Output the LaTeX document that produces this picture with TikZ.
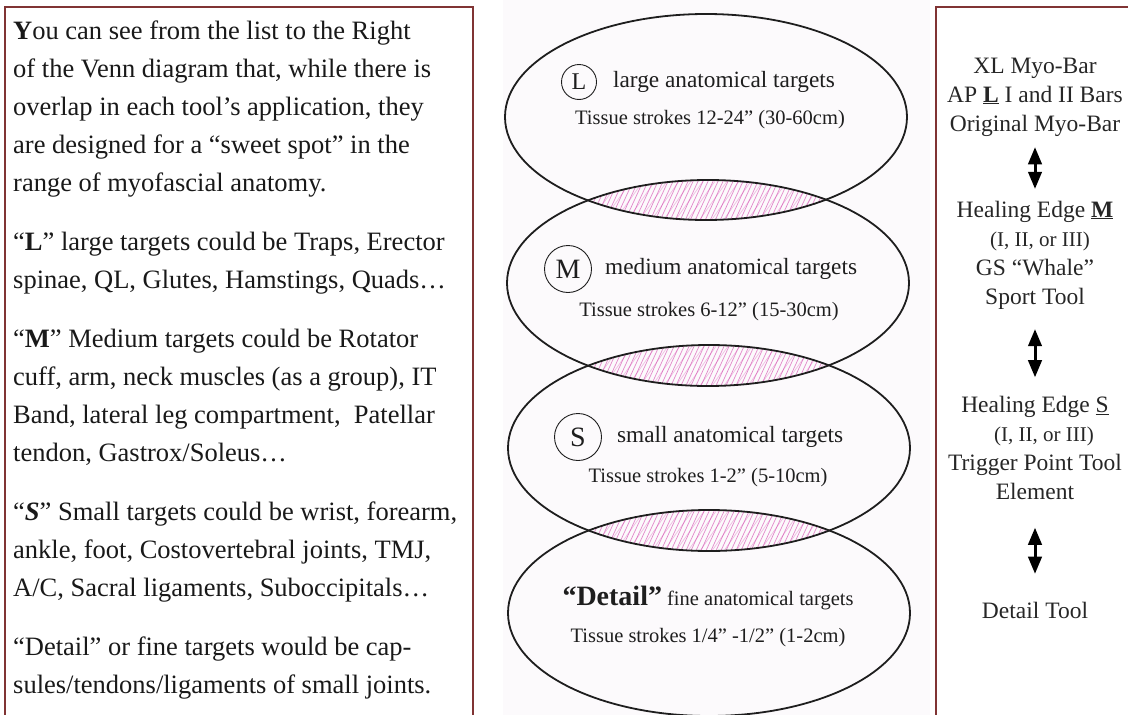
\documentclass[tikz,border=0pt]{standalone}
\usepackage{fontspec}
\setmainfont{Liberation Serif}
\usepackage{tikz}
\usetikzlibrary{arrows, positioning}
\definecolor{boxred}{RGB}{128,52,52}
\definecolor{inkgray}{RGB}{30,30,30}
\definecolor{hatchpink}{RGB}{210,60,170}
\definecolor{vennbg}{RGB}{252,250,252}
\tikzset{
  framed/.style = {draw=boxred, line width=1.2pt},
  bodytext/.style = {align=left, inner sep=0pt, anchor=north west,
    text=black!90, font=\fontsize{26.5}{38}\selectfont},
  vennline/.style = {draw=inkgray, line width=1.8pt},
  hatch/.style = {draw=hatchpink, line width=0.7pt, opacity=0.6},
  ring/.style = {circle, draw=inkgray, line width=0.9pt, inner sep=0pt,
    minimum size=#1, text=inkgray},
  venntitle/.style = {inner sep=0pt, text=inkgray,
    font=\fontsize{23.3}{28}\selectfont},
  strokes/.style = {inner sep=0pt, text=inkgray,
    font=\fontsize{20.5}{24}\selectfont},
  toollist/.style = {align=center, inner sep=0pt, text=black!85,
    font=\fontsize{23.5}{29}\selectfont},
  dblarrow/.style = {<->, line width=3pt}
}

\begin{document}
\begin{tikzpicture}[x=1pt, y=-1pt, >=triangle 45]
\useasboundingbox (0,0) rectangle (1128,715);
\fill[vennbg] (503,0) rectangle (930,715);
\draw[framed] (5,715) |- (473,7) -- (473,715);
\draw[framed] (936,715) |- (1128,7);

\node[bodytext] (notes) at (13,21) {\textbf{Y}ou can see from the list to the Right\\
of the Venn diagram that, while there is\\
overlap in each tool’s application, they\\
are designed for a “sweet spot” in the\\
range of myofascial anatomy.\\[21pt]
“\textbf{L}” large targets could be Traps, Erector\\
spinae, QL, Glutes, Hamstings, Quads…\\[21pt]
“\textbf{M}” Medium targets could be Rotator\\
cuff, arm, neck muscles (as a group), IT\\
Band, lateral leg compartment,~ Patellar\\
tendon, Gastrox/Soleus…\\[21pt]
“\textbf{\textit{S}}” Small targets could be wrist, forearm,\\
ankle, foot, Costovertebral joints, TMJ,\\
A/C, Sacral ligaments, Suboccipitals…\\[21pt]
“Detail” or fine targets would be cap-\\
sules/tendons/ligaments of small joints.};

\coordinate (cL) at (706,117);
\coordinate (cM) at (708,283);
\coordinate (cS) at (709,448);
\coordinate (cD) at (709,613);

\foreach \up/\dn in {cL/cM, cM/cS, cS/cD}{
  \begin{scope}
    \clip (\up) ellipse [x radius=201, y radius=103];
    \clip (\dn) ellipse [x radius=201, y radius=103];
    \begin{scope}[shift={(\dn)}]
      \foreach \x in {-150,-145,...,130}
        \draw[hatch] (\x,-58) -- ++(22,-48);
      \foreach \x in {-120,-108,...,100}
        \draw[hatch, opacity=0.3] (\x,-58) -- ++(34,-48);
    \end{scope}
  \end{scope}
}
\foreach \c in {cL,cM,cS,cD}
  \draw[vennline] (\c) ellipse [x radius=201, y radius=103];

\node[ring=35pt, font=\fontsize{24}{24}\selectfont] (ringL) at (579,82) {L};
\node[venntitle, right=16pt of ringL] (titleL) {large anatomical targets};
\node[strokes] (strokesL) at (710,120) {Tissue strokes 12-24” (30-60cm)};

\node[ring=47pt, font=\fontsize{28}{28}\selectfont] (ringM) at (568,269) {M};
\node[venntitle, right=13pt of ringM] (titleM) {medium anatomical targets};
\node[strokes] (strokesM) at (709,312) {Tissue strokes 6-12” (15-30cm)};

\node[ring=47pt, font=\fontsize{28}{28}\selectfont] (ringS) at (578,437) {S};
\node[venntitle, right=15pt of ringS] (titleS) {small anatomical targets};
\node[strokes] (strokesS) at (708,478) {Tissue strokes 1-2” (5-10cm)};

\node[strokes] (titleD) at (708,598) {{\fontsize{28}{28}\selectfont\bfseries “Detail”} fine anatomical targets};
\node[strokes] (strokesD) at (708,638) {Tissue strokes 1/4” -1/2” (1-2cm)};

\node[toollist] (toolsL) at (1035,97) {XL Myo-Bar\\AP \underline{\textbf{L}} I and II Bars\\Original Myo-Bar};
\node[toollist] (toolsM) at (1035,255) {Healing Edge \underline{\textbf{M}}\\
\hspace*{10pt}{\fontsize{21}{29}\selectfont (I, II, or III)}\\GS “Whale”\\Sport Tool};
\node[toollist] (toolsS) at (1035,448) {Healing Edge \underline{S}\\
\hspace*{18pt}{\fontsize{21}{29}\selectfont (I, II, or III)}\\Trigger Point Tool\\Element};
\node[toollist] (toolsD) at (1035,610) {Detail Tool};

\draw[dblarrow, shorten <=11pt, shorten >=12pt] (toolsL) -- (toolsM);
\draw[dblarrow, shorten <=20pt, shorten >=19pt] (toolsM) -- (toolsS);
\draw[dblarrow, shorten <=28pt, shorten >=28pt] (toolsS) -- (toolsD);
\end{tikzpicture}
\end{document}
